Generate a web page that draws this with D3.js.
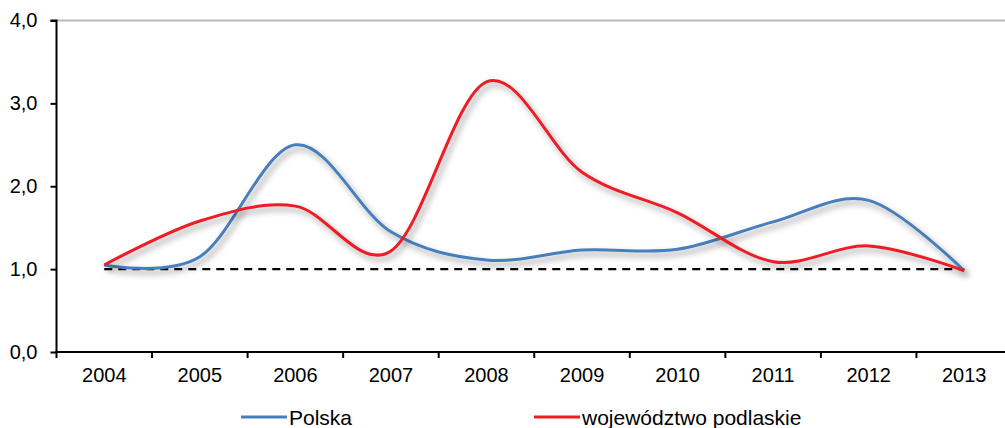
<!DOCTYPE html>
<html>
<head>
<meta charset="utf-8">
<script src="https://cdn.jsdelivr.net/npm/d3@7"></script>
<style>
  body { margin: 0; background: #fff; }
  svg { display: block; font-family: "Liberation Sans", Arial, sans-serif; }
</style>
</head>
<body>
<script>
function main() {

    let years = ["2004", "2005", "2006", "2007", "2008", "2009", "2010", "2011", "2012", "2013"];
    let polska = [1.05, 1.15, 2.50, 1.45, 1.11, 1.23, 1.24, 1.57, 1.83, 0.98];
    let podlaskie = [1.05, 1.58, 1.76, 1.22, 3.26, 2.17, 1.68, 1.09, 1.28, 0.98];
    let yTicks = [0, 1, 2, 3, 4];
    let baseline = 1.0;

    let svg = d3.select("body").append("svg")
        .attr("width", 1005)
        .attr("height", 428);

    let defs = svg.append("defs");
    let f = defs.append("filter").attr("id", "shadow")
        .attr("x", "-10%").attr("y", "-30%").attr("width", "120%").attr("height", "160%");
    f.append("feDropShadow")
        .attr("dx", 3).attr("dy", 4)
        .attr("stdDeviation", 3)
        .attr("flood-color", "#000")
        .attr("flood-opacity", 0.4);

    let xScale = d3.scaleBand().domain(years).range([56.5, 1012]);
    let yScale = d3.scaleLinear().domain([0, 4]).range([352, 20.5]);
    let cx = d => xScale(d) + xScale.bandwidth() / 2;

    // top border line
    svg.append("line")
        .attr("x1", 56).attr("x2", 1005)
        .attr("y1", yScale(4)).attr("y2", yScale(4))
        .attr("stroke", "#bbbbbb").attr("stroke-width", 2);

    // y axis
    let yAxis = d3.axisLeft(yScale).tickValues(yTicks)
        .tickFormat(d => d3.format(".1f")(d).replace(".", ","))
        .tickSize(6).tickPadding(13);
    let gy = svg.append("g")
        .attr("transform", `translate(${56.5},0)`)
        .call(yAxis);
    gy.select(".domain").attr("stroke-width", 2).attr("d", `M-6,${yScale(4)}H0V${yScale(0)}`);
    gy.selectAll(".tick line").attr("stroke-width", 2);
    gy.selectAll("text").style("font-size", "20px").attr("fill", "#000")
        .attr("font-family", "Liberation Sans, Arial, sans-serif");

    // x axis, ticks between categories
    let gx = svg.append("g")
        .attr("transform", `translate(0,${yScale(0)})`);
    gx.append("line")
        .attr("x1", 55.5).attr("x2", 1005)
        .attr("stroke", "#000").attr("stroke-width", 2);
    gx.selectAll(".xt")
        .data(years)
        .enter()
        .append("line")
        .attr("x1", d => xScale(d)).attr("x2", d => xScale(d))
        .attr("y1", 0).attr("y2", 6)
        .attr("stroke", "#000").attr("stroke-width", 2);
    gx.selectAll(".xl")
        .data(years)
        .enter()
        .append("text")
        .attr("x", d => cx(d))
        .attr("y", 30)
        .attr("text-anchor", "middle")
        .style("font-size", "20px")
        .text(d => d);

    // dashed reference line
    svg.append("line")
        .attr("x1", cx(years[0])).attr("x2", cx(years[years.length - 1]))
        .attr("y1", yScale(baseline)).attr("y2", yScale(baseline))
        .attr("stroke", "#000").attr("stroke-width", 2.2)
        .attr("stroke-dasharray", "8,6");

    let line = d3.line()
        .x((d, i) => cx(years[i]))
        .y(d => yScale(d))
        .curve(d3.curveCatmullRom.alpha(0));

    svg.append("path")
        .datum(polska)
        .attr("d", line)
        .attr("fill", "none")
        .attr("stroke", "#4a7ebb")
        .attr("stroke-width", 3)
        .attr("filter", "url(#shadow)");

    svg.append("path")
        .datum(podlaskie)
        .attr("d", line)
        .attr("fill", "none")
        .attr("stroke", "#ee1c25")
        .attr("stroke-width", 3)
        .attr("filter", "url(#shadow)");

    // legend
    let legend = [
        { name: "Polska", color: "#4a7ebb", x: 241 },
        { name: "województwo podlaskie", color: "#ee1c25", x: 534 }
    ];
    let lg = svg.selectAll(".lg")
        .data(legend)
        .enter()
        .append("g")
        .attr("transform", d => `translate(${d.x},417)`);
    lg.append("line")
        .attr("x1", 0).attr("x2", 46)
        .attr("stroke", d => d.color).attr("stroke-width", 3);
    lg.append("text")
        .attr("x", 48).attr("y", 8)
        .style("font-size", "21px")
        .text(d => d.name);
}

main()
</script>
</body>
</html>
